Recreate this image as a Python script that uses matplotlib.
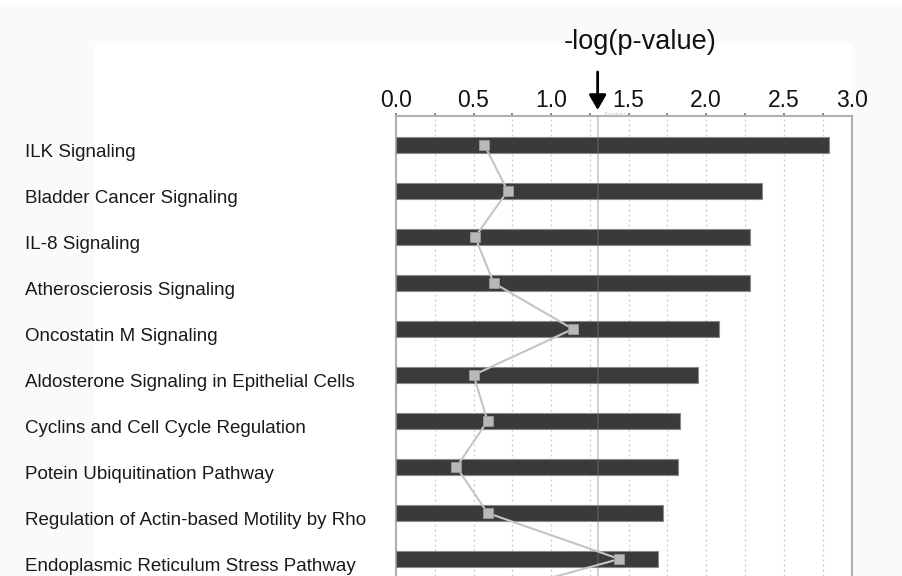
import matplotlib
matplotlib.use("Agg")
import matplotlib.pyplot as plt
import matplotlib.transforms as mtransforms
from matplotlib.patches import Rectangle

plt.rcParams['font.family'] = ['Liberation Sans', 'DejaVu Sans']

pathways = [
    "ILK Signaling",
    "Bladder Cancer Signaling",
    "IL-8 Signaling",
    "Atheroscierosis Signaling",
    "Oncostatin M Signaling",
    "Aldosterone Signaling in Epithelial Cells",
    "Cyclins and Cell Cycle Regulation",
    "Potein Ubiquitination Pathway",
    "Regulation of Actin-based Motility by Rho",
    "Endoplasmic Reticulum Stress Pathway",
]
neg_log_p = [2.79, 2.36, 2.28, 2.28, 2.08, 1.95, 1.83, 1.82, 1.72, 1.69]
# ratio series (one extra point continues below the visible area)
ratio = [0.57, 0.72, 0.51, 0.63, 1.14, 0.50, 0.59, 0.39, 0.59, 1.44, 0.36]
threshold = 1.3
grid_ticks = [0.0, 0.25, 0.5, 0.75, 1.0, 1.25, 1.5, 1.75, 2.0, 2.25, 2.5, 2.75]
major_ticks = [0.0, 0.5, 1.0, 1.5, 2.0, 2.5]
tick_labels = ["0.0", "0.5", "1.0", "1.5", "2.0", "2.5"]
end_label = "3.0"
xmax = 2.94

W, H = 902, 576
fig = plt.figure(figsize=(W / 100, H / 100), dpi=100)
fig.patch.set_facecolor('white')

# subtle background panels
fig.patches.append(Rectangle((0, 0), 1, (H - 5) / H, transform=fig.transFigure,
                             facecolor='#fafafa', edgecolor='none', zorder=-10))
fig.patches.append(Rectangle((95 / W, 0), (852 - 95) / W, (H - 43) / H, transform=fig.transFigure,
                             facecolor='white', edgecolor='none', zorder=-9))

ax_left, ax_right, ax_top = 396, 852, 116
ax = fig.add_axes([ax_left / W, 0, (ax_right - ax_left) / W, (H - ax_top) / H])
ax.set_facecolor('white')

y_first, spacing = 145, 46
ymin = (ax_top - y_first) / spacing
ymax = (H - y_first) / spacing
ax.set_ylim(ymax, ymin)
ax.set_xlim(0, xmax)

idx = list(range(len(pathways)))
ax.barh(idx, neg_log_p, height=0.33, color='#3a3a3a', edgecolor='#8a8a8a',
        linewidth=0.8, zorder=3)

# gridlines and top ticks
ax.set_xticks(grid_ticks)
ax.set_xticklabels([])
ax.grid(axis='x', which='major', linestyle=(0, (1.5, 2.5)), color='#c8c8c8', linewidth=0.9, zorder=0)
ax.xaxis.set_ticks_position('top')
ax.tick_params(axis='x', which='major', length=2.5, width=1.2, color='#707070', direction='out')
ax.set_yticks([])

off = mtransforms.ScaledTranslation(0, 4 / 100, fig.dpi_scale_trans)
for t, lab in zip(major_ticks, tick_labels):
    ax.text(t, 1.0, lab, transform=ax.get_xaxis_transform() + off, ha='center', va='bottom',
            fontsize=16.5, color='#111111')
ax.text(1.0, 1.0, end_label, transform=ax.transAxes + off, ha='center', va='bottom',
        fontsize=16.5, color='#111111')

for s in ['top', 'left', 'right']:
    ax.spines[s].set_color('#b0b0b0')
    ax.spines[s].set_linewidth(1.5)
ax.spines['bottom'].set_visible(False)

# threshold line
ax.axvline(threshold, color='#7a7a7a', alpha=0.42, linewidth=1.2, zorder=4)

# ratio line
ax.plot(ratio, list(range(len(ratio))), color='#c4c4c4', linewidth=1.5, zorder=5,
        marker='s', markersize=6.5, markerfacecolor='#b8b8b8', markeredgecolor='#9a9a9a',
        markeredgewidth=0.6)

# category labels
for i, name in enumerate(pathways):
    fig.text(25 / W, 1 - (y_first + spacing * i + 11.7) / H, name, ha='left', va='baseline',
             fontsize=13.5, color='#1a1a1a')

# axis title
fig.text(640 / W, 1 - 42 / H, "-log(p-value)", ha='center', va='center', fontsize=19.5, color='#111111')

# arrow pointing at threshold
ax.annotate('', xy=(threshold, 1.0), xycoords=ax.get_xaxis_transform(),
            xytext=(threshold, 1.0 + 44 / (H - ax_top)), textcoords=ax.get_xaxis_transform(),
            arrowprops=dict(arrowstyle='-|>,head_width=0.4,head_length=0.7', color='black',
                            linewidth=2, shrinkA=0, shrinkB=4.3, mutation_scale=13),
            annotation_clip=False)
thr_off = mtransforms.ScaledTranslation(0, 3.8 / 100, fig.dpi_scale_trans)
ax.text(threshold + 0.04, 1.0, 'Threshold', transform=ax.get_xaxis_transform() + thr_off,
        fontsize=3.5, color='#cccccc', ha='left', va='top')

fig.savefig('out.png', dpi=100, facecolor=fig.get_facecolor())
